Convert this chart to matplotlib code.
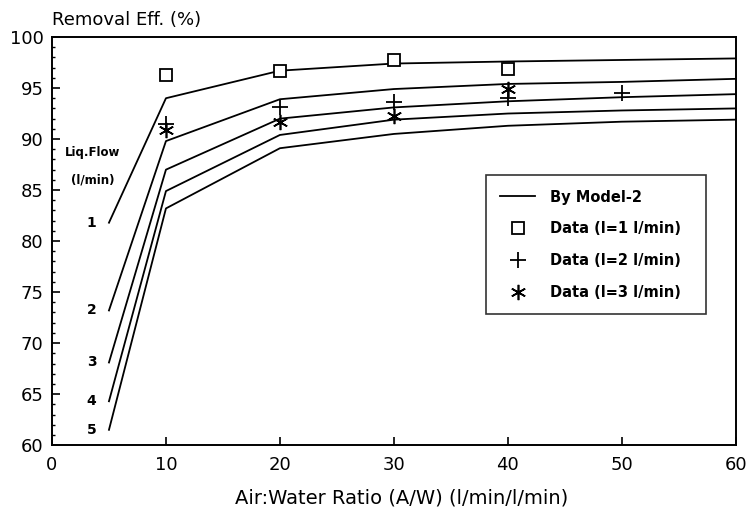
import matplotlib
matplotlib.use("Agg")
import matplotlib.pyplot as plt
from matplotlib.ticker import MultipleLocator

# ---- data ----
air_water = [5, 10, 20, 30, 40, 50, 60]
model_1 = [81.8, 94.0, 96.7, 97.4, 97.6, 97.75, 97.9]
model_2 = [73.2, 89.8, 93.9, 94.9, 95.4, 95.6, 95.9]
model_3 = [68.1, 87.0, 92.0, 93.1, 93.7, 94.1, 94.4]
model_4 = [64.3, 84.9, 90.4, 91.9, 92.5, 92.8, 93.0]
model_5 = [61.5, 83.2, 89.1, 90.5, 91.3, 91.7, 91.9]
curve_labels = ["1", "2", "3", "4", "5"]

data1_x = [10, 20, 30, 40]
data1_y = [96.3, 96.7, 97.7, 96.9]
data2_x = [10, 20, 30, 40, 50]
data2_y = [91.5, 93.1, 93.6, 94.0, 94.5]
data3_x = [10, 20, 30, 40]
data3_y = [90.9, 91.7, 92.3, 94.9]

xticks = [0, 10, 20, 30, 40, 50, 60]
yticks = [60, 65, 70, 75, 80, 85, 90, 95, 100]

plt.rcParams['font.family'] = ['DejaVu Sans']

fig = plt.figure(figsize=(7.49, 5.14), dpi=100)
ax = fig.add_axes([0.0694, 0.134, 0.913, 0.794])

models = [model_1, model_2, model_3, model_4, model_5]
for i, m in enumerate(models):
    ax.plot(air_water, m, color='black', lw=1.3,
            label='By Model-2' if i == 0 else None)
    ax.text(air_water[0] - 1.1, m[0], curve_labels[i], ha='right', va='center',
            fontsize=10, fontweight='bold')

ax.plot(data1_x, data1_y, ls='none', marker='s', ms=8, mfc='white',
        mec='black', mew=1.3, label='Data (l=1 l/min)')
ax.plot(data2_x, data2_y, ls='none', marker='+', ms=12, mec='black',
        mew=1.3, label='Data (l=2 l/min)')
ax.plot(data3_x, data3_y, ls='none', marker=(6, 2, 0), ms=11, mec='black',
        mew=1.2, label='Data (l=3 l/min)')

ax.text(3.6, 88.7, 'Liq.Flow', ha='center', va='center', fontsize=8.5, fontweight='bold')
ax.text(3.6, 86.0, '(l/min)', ha='center', va='center', fontsize=8.5, fontweight='bold')

ax.set_xlim(0, 60)
ax.set_ylim(60, 100)
ax.set_xticks(xticks)
ax.set_yticks(yticks)
ax.yaxis.set_minor_locator(MultipleLocator(1))
ax.tick_params(axis='both', which='major', direction='in', length=6, width=1.2,
               labelsize=13)
ax.tick_params(axis='x', which='major', pad=8)
ax.tick_params(axis='y', which='major', pad=6)
ax.tick_params(axis='y', which='minor', direction='in', length=2.5, width=1)
for s in ax.spines.values():
    s.set_linewidth(1.4)

leg = ax.legend(loc='upper left', bbox_to_anchor=(0.634, 0.324, 0.322, 0.338),
                mode='expand', frameon=True,
                fancybox=False, edgecolor='black',
                prop={'weight': 'bold', 'size': 10.5},
                handlelength=2.4, labelspacing=1.15, borderpad=1.0,
                handletextpad=1.0, borderaxespad=0)
leg.get_frame().set_linewidth(1.2)

fig.text(52 / 749, 1 - 20 / 514, 'Removal Eff. (%)', ha='left', va='center',
         fontsize=13)
fig.text(402 / 749, 1 - 498 / 514, 'Air:Water Ratio (A/W) (l/min/l/min)',
         ha='center', va='center', fontsize=14)

fig.savefig('out.png', dpi=100)
